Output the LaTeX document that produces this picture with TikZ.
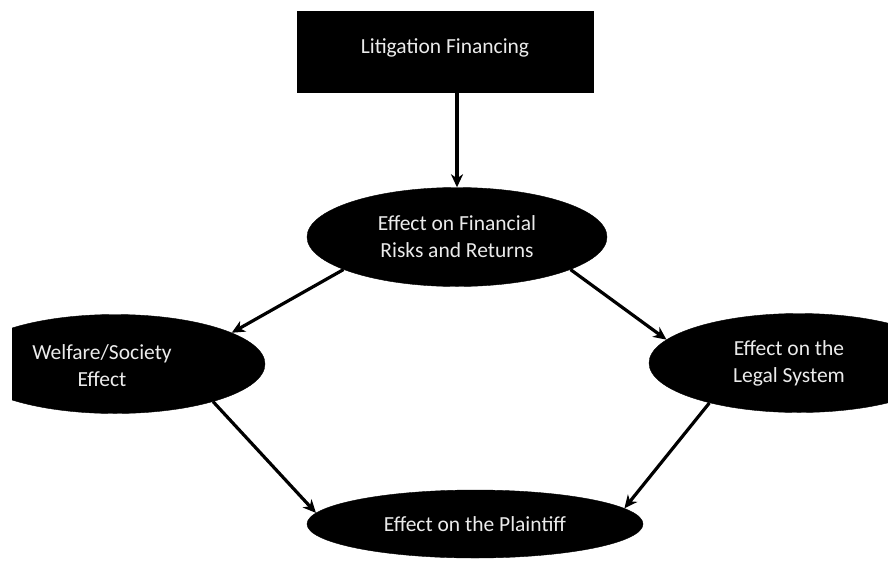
\documentclass[tikz,border=0pt]{standalone}
\usepackage{fontspec}
\setmainfont{Carlito}
\usepackage{tikz}
\usetikzlibrary{arrows.meta,positioning,shapes.geometric}

\begin{document}
\begin{tikzpicture}[
  x=1pt,y=-1pt,
  every node/.style={font=\fontsize{21.5}{27}\selectfont,align=center,text=white!92!black},
  box/.style={draw=black,fill=black,minimum width=296pt,minimum height=81pt,inner sep=0pt},
  oval/.style={ellipse,draw=black,fill=black,minimum width=300pt,minimum height=99pt,inner sep=0pt},
  arrow/.style={-{Stealth[length=13pt,width=12pt,inset=4pt]},line width=3.2pt,color=black}
]
\useasboundingbox (0,0) rectangle (888,560);
\begin{scope}
\clip (12,0) rectangle (888,560);
\node[box] (litfin) at (445,52) {};
\node at (445,48) {Litigation Financing};
\node[oval] (fin) at (457,237) {Effect on Financial\\Risks and Returns};
\node[oval] (welfare) at (115,364) {};
\node at (102,366) {Welfare/Society\\Effect};
\node[oval] (legal) at (799,363) {};
\node at (789,363) {Effect on the\\Legal System};
\node[oval,minimum width=336pt,minimum height=68pt] (plaintiff) at (475,524) {Effect on the Plaintiff};
\end{scope}
\draw[arrow] (litfin.south -| fin.north) -- (fin.north);
\draw[arrow] (fin.196) -- (welfare.15);
\draw[arrow] (fin.344) -- (legal.170);
\draw[arrow] (welfare.339) -- (plaintiff.176);
\draw[arrow] (legal.204) -- (plaintiff.6);
\end{tikzpicture}
\end{document}
